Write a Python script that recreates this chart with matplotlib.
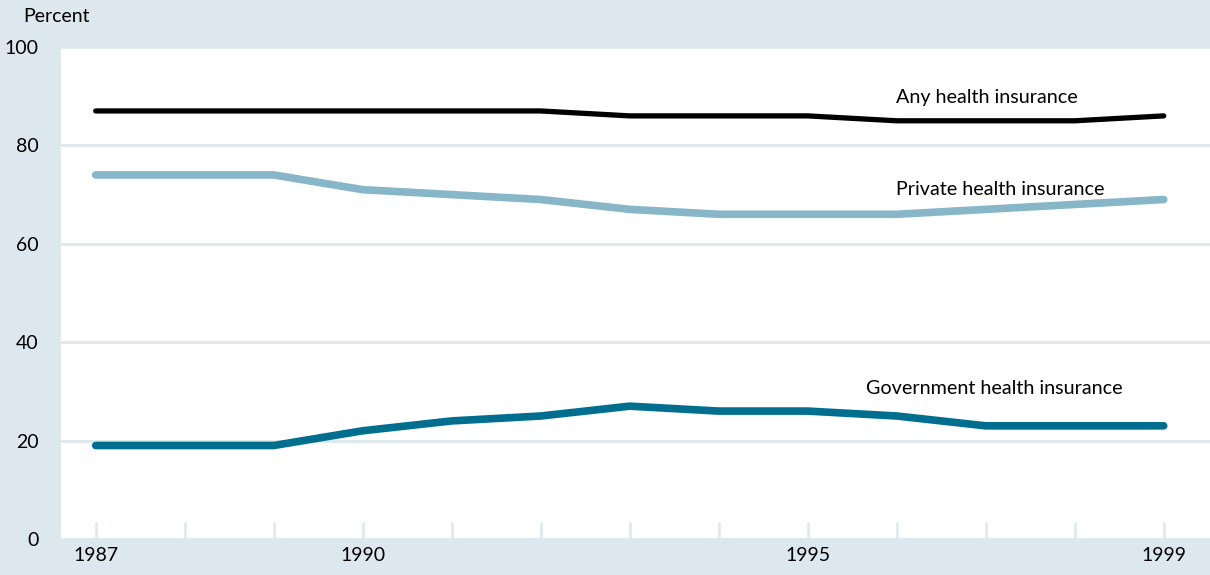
import numpy as np
import matplotlib.pyplot as plt

plt.rcParams['font.family'] = ['Lato', 'DejaVu Sans']

years = np.arange(1987, 2000)
any_ins = [87, 87, 87, 87, 87, 87, 86, 86, 86, 85, 85, 85, 86]
private_ins = [74, 74, 74, 71, 70, 69, 67, 66, 66, 66, 67, 68, 69]
govt_ins = [19, 19, 19, 22, 24, 25, 27, 26, 26, 25, 23, 23, 23]
xtick_labels = ['1987', '1990', '1995', '1999']

bg = '#dce8ee'
fig = plt.figure(figsize=(12.1, 5.75), dpi=100, facecolor=bg)
ax = fig.add_axes([61/1210, 1 - 539/575, 1 - 61/1210, (539-47)/575])
ax.set_facecolor('white')

ax.plot(years, private_ins, color='#87b6c9', lw=5.5, solid_capstyle='round', zorder=3)
ax.plot(years, govt_ins, color='#006f8f', lw=5.5, solid_capstyle='round', zorder=3)
ax.plot(years, any_ins, color='black', lw=3.8, solid_capstyle='round', zorder=4)

ax.set_xlim(1986.61, 1999.52)
ax.set_ylim(0, 100)
ax.set_yticks([0, 20, 40, 60, 80, 100])
ax.yaxis.grid(True, color=bg, lw=2)
ax.set_axisbelow(True)
ax.set_xticks(years)
ax.set_xticklabels([str(y) if str(y) in xtick_labels else '' for y in years])
ax.tick_params(axis='x', direction='in', length=12, width=1.8, color=bg,
               labelsize=14, pad=6)
ax.tick_params(axis='y', length=0, labelsize=14, pad=16)
for s in ax.spines.values():
    s.set_visible(False)

ax.text(1995.99, 89.8, 'Any health insurance', fontsize=14.2, va='center')
ax.text(1995.99, 71.1, 'Private health insurance', fontsize=14.2, va='center')
ax.text(1995.66, 30.5, 'Government health insurance', fontsize=14.2, va='center')
fig.text(23/1210, 1 - 17/575, 'Percent', fontsize=14, va='center')

fig.savefig('out.png', dpi=100, facecolor=bg)
